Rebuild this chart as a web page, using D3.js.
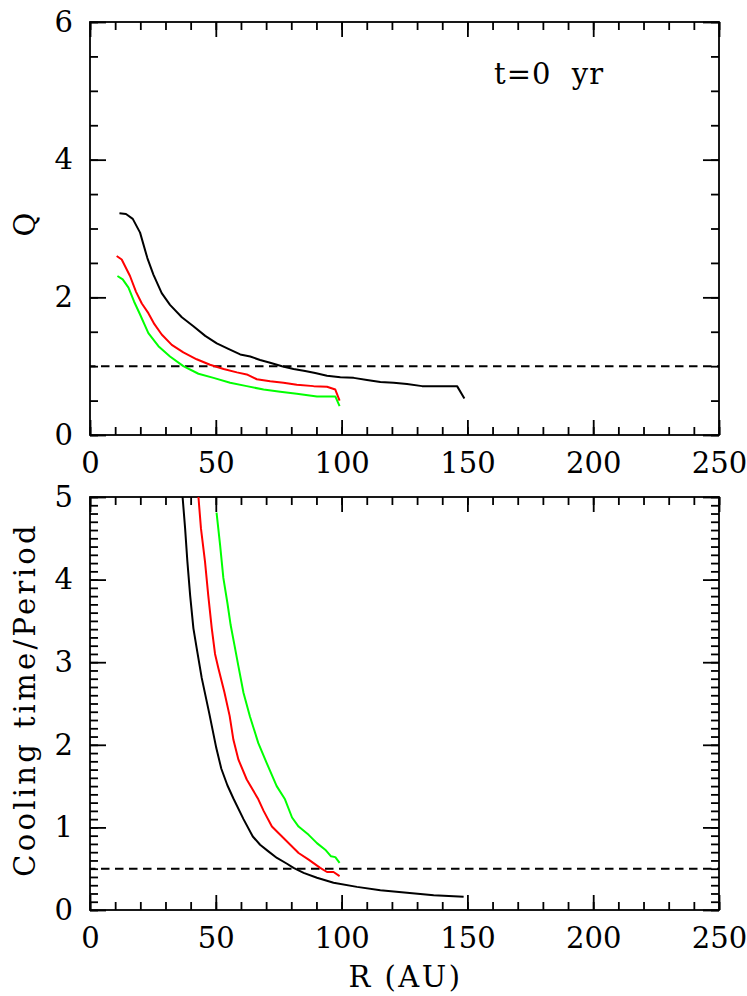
<!DOCTYPE html>
<html>
<head>
<meta charset="utf-8">
<script src="https://cdn.jsdelivr.net/npm/d3@7"></script>
<style>
    body { margin: 0; background: #fff; }
    svg text { font-family: "DejaVu Serif", serif; fill: #000; }
</style>
</head>
<body>
<svg id="svg" width="747" height="996"></svg>
<script>
// R (AU), Q  --- top panel, t=0 yr
var qBlack = [[11.7,3.22],[14.3,3.21],[17.0,3.14],[19.9,2.94],[22.8,2.57],[25.2,2.33],[28.5,2.06],[31.8,1.89],
    [36.5,1.71],[41.1,1.58],[45.8,1.44],[50.4,1.33],[55.0,1.25],[59.7,1.17],[63.7,1.14],[67.6,1.09],[71.6,1.05],
    [76.3,1.00],[80.9,0.96],[85.5,0.93],[89.5,0.90],[94.2,0.86],[99.5,0.84],[104.8,0.83],[110.1,0.80],[115.4,0.77],
    [120.7,0.76],[126.0,0.74],[132.0,0.71],[136.6,0.71],[145.9,0.71],[148.8,0.53]];
var qRed = [[10.6,2.60],[12.6,2.55],[15.9,2.31],[18.3,2.08],[20.6,1.91],[23.2,1.77],[25.6,1.61],[28.5,1.46],
    [32.5,1.31],[37.1,1.20],[42.4,1.10],[47.7,1.02],[53.1,0.96],[58.4,0.91],[62.3,0.88],[66.3,0.81],[71.6,0.78],
    [76.9,0.76],[82.2,0.73],[88.9,0.71],[94.2,0.70],[97.5,0.66],[99.2,0.50]];
var qGreen = [[10.9,2.31],[13.0,2.26],[15.3,2.14],[17.5,1.94],[19.9,1.75],[23.2,1.48],[27.2,1.29],[31.8,1.14],
    [37.1,1.00],[43.1,0.89],[49.1,0.83],[55.7,0.76],[62.3,0.71],[69.0,0.66],[75.6,0.63],[82.2,0.60],[90.2,0.56],
    [97.5,0.56],[99.2,0.42]];

// R (AU), cooling time / period --- bottom panel
var cBlack = [[36.8,5.0],[37.8,4.62],[38.7,4.22],[39.8,3.81],[41.1,3.41],[42.4,3.17],[44.4,2.81],[47.4,2.38],
    [50.2,1.96],[52.2,1.71],[54.6,1.51],[57.0,1.35],[61.0,1.10],[64.7,0.89],[67.6,0.79],[70.9,0.71],
    [74.3,0.63],[78.3,0.56],[80.9,0.51],[84.9,0.45],[90.2,0.39],[96.8,0.33],[106.1,0.28],[115.4,0.24],[126.0,0.21],
    [136.6,0.18],[148.5,0.16]];
var cRed = [[43.1,5.0],[44.1,4.62],[45.7,4.22],[47.0,3.81],[48.4,3.41],[49.7,3.10],[51.0,2.93],[53.4,2.64],
    [55.5,2.35],[57.0,2.06],[59.0,1.82],[62.3,1.58],[66.9,1.34],[69.0,1.20],[72.3,1.01],[76.3,0.89],[79.6,0.79],
    [82.9,0.69],[86.9,0.61],[91.5,0.51],[94.2,0.46],[96.8,0.46],[99.2,0.41]];
var cGreen = [[50.3,4.81],[51.7,4.42],[53.0,4.02],[54.6,3.72],[55.9,3.45],[57.4,3.21],[59.0,2.95],[61.0,2.63],
    [63.6,2.34],[66.9,2.02],[70.2,1.78],[74.2,1.50],[77.5,1.34],[80.3,1.12],[82.9,1.01],[86.9,0.91],[90.2,0.81],
    [93.5,0.73],[95.8,0.65],[97.5,0.64],[99.2,0.57]];

var seriesColors = ["#000000", "#ff0000", "#00ff00"];

// tick values
var xMajor = [0, 50, 100, 150, 200, 250];
var xMinor = d3.range(0, 251, 10);
var qMajor = [0, 2, 4, 6];
var qMinor = d3.range(0, 6.01, 0.5);
var cMajor = [0, 1, 2, 3, 4, 5];
var cMinor = d3.range(0, 5.001, 0.1);

var qLimit = 1;      // Q = 1 dashed line
var cLimit = 0.5;    // t_cool / P = 0.5 dashed line

var svg = d3.select("svg");

var left = 90, right = 719;
var x = d3.scaleLinear().domain([0, 250]).range([left, right]);

/**
 * draws one framed panel with inward ticks on all four sides
 */
function panel(y, yMajor, yMinor, top, bottom, yLabel, labelSpacing, curves, limit) {
    var g = svg.append("g");

    // frame
    g.append("rect")
        .attr("x", left).attr("y", top)
        .attr("width", right - left).attr("height", bottom - top)
        .attr("fill", "none").attr("stroke", "#000").attr("stroke-width", 1.8);

    // ticks: [axis generator, position, values, size, labels]
    var axes = [
        [d3.axisBottom(x), "translate(0," + bottom + ")", xMajor, 15, true],
        [d3.axisBottom(x), "translate(0," + bottom + ")", xMinor, 8, false],
        [d3.axisTop(x), "translate(0," + top + ")", xMajor, 15, false],
        [d3.axisTop(x), "translate(0," + top + ")", xMinor, 8, false],
        [d3.axisLeft(y), "translate(" + left + ",0)", yMajor, 16, true],
        [d3.axisLeft(y), "translate(" + left + ",0)", yMinor, 8, false],
        [d3.axisRight(y), "translate(" + right + ",0)", yMajor, 16, false],
        [d3.axisRight(y), "translate(" + right + ",0)", yMinor, 8, false]
    ];
    axes.forEach(function (a) {
        var ax = g.append("g")
            .attr("transform", a[1])
            .call(a[0].tickValues(a[2]).tickSizeInner(-a[3]).tickSizeOuter(0)
                .tickPadding(a[4] ? 17 : 0)
                .tickFormat(a[4] ? d3.format("d") : ""));
        ax.select(".domain").remove();
        ax.selectAll(".tick line").attr("stroke", "#000").attr("stroke-width", 1.8);
        ax.selectAll("text").attr("font-size", "29px").attr("font-family", "DejaVu Serif");
    });

    // dashed threshold line
    g.append("line")
        .attr("x1", x(0)).attr("x2", x(250))
        .attr("y1", y(limit)).attr("y2", y(limit))
        .attr("stroke", "#000").attr("stroke-width", 2)
        .attr("stroke-dasharray", "8.5,5.5")
        .attr("stroke-dashoffset", -11);

    var line = d3.line()
        .x(function (d) { return x(d[0]); })
        .y(function (d) { return y(d[1]); });

    curves.forEach(function (c, i) {
        g.append("path")
            .datum(c)
            .attr("fill", "none")
            .attr("stroke", seriesColors[i])
            .attr("stroke-width", 2)
            .attr("stroke-linejoin", "round")
            .attr("d", line);
    });

    // y label
    g.append("text")
        .attr("transform", "translate(35," + ((top + bottom) / 2 - 4) + ") rotate(-90)")
        .attr("text-anchor", "middle")
        .attr("font-size", "29px")
        .attr("letter-spacing", labelSpacing)
        .text(yLabel);

    return g;
}

var yQ = d3.scaleLinear().domain([0, 6]).range([435, 22]);
var yC = d3.scaleLinear().domain([0, 5]).range([910, 497]);

var top_panel = panel(yQ, qMajor, qMinor, 22, 435, "Q", 0, [qBlack, qRed, qGreen], qLimit);
panel(yC, cMajor, cMinor, 497, 910, "Cooling time/Period", 3.3, [cBlack, cRed, cGreen], cLimit);

// time stamp in the top panel
top_panel.append("text")
    .attr("x", 494)
    .attr("y", 84)
    .attr("font-size", "29px")
    .attr("letter-spacing", 1)
    .style("white-space", "pre")
    .text("t=0  yr");

// x axis title
svg.append("text")
    .attr("x", (left + right) / 2 + 1)
    .attr("y", 987)
    .attr("text-anchor", "middle")
    .attr("font-size", "29px")
    .attr("letter-spacing", 2.5)
    .text("R (AU)");
</script>
</body>
</html>
